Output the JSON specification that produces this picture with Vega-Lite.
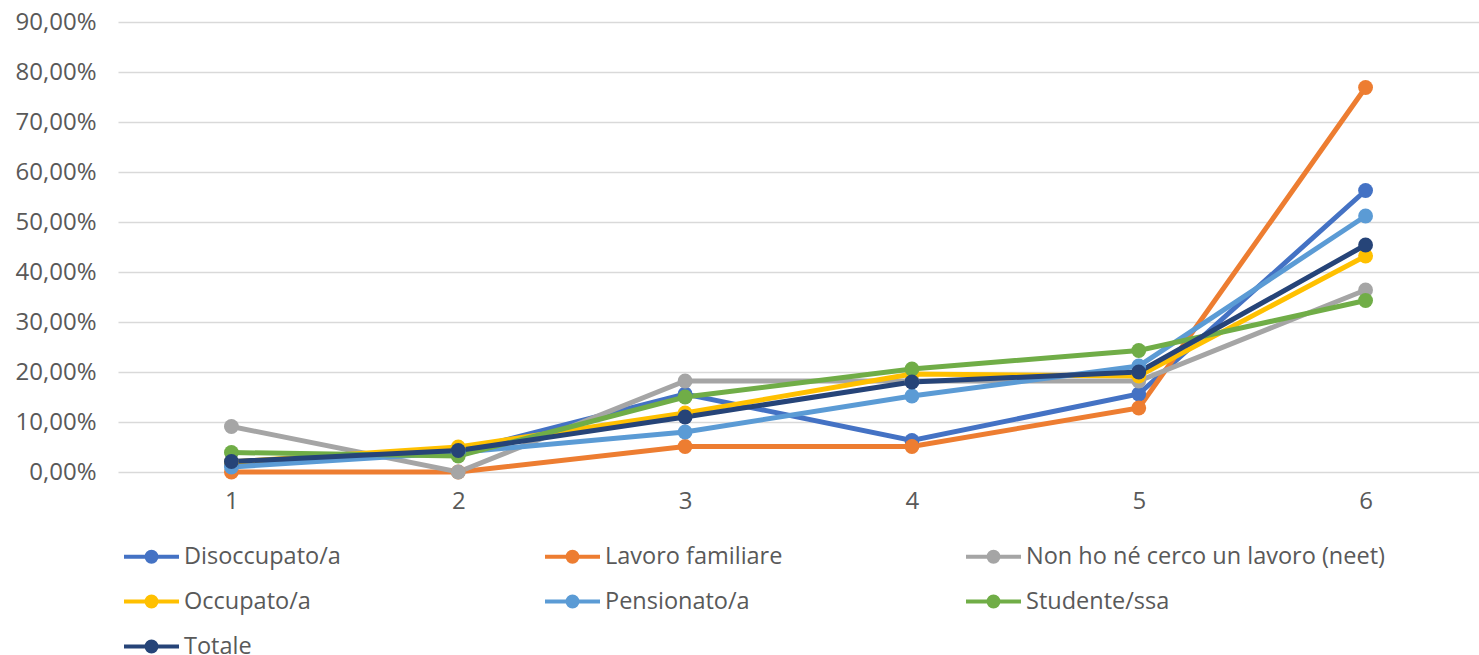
{
  "$schema": "https://vega.github.io/schema/vega-lite/v6.json",
  "autosize": "none",
  "width": 1361,
  "height": 450,
  "padding": {"left": 118, "top": 22, "right": 0, "bottom": 183},
  "background": "white",
  "config": {
    "locale": {"number": {"decimal": ",", "thousands": ".", "grouping": [3], "currency": ["€", ""]}},
    "font": "Open Sans",
    "view": {"stroke": null}
  },
  "data": {"values": [
    {"cat": "1", "serie": "Disoccupato/a", "v": 0.015},
    {"cat": "2", "serie": "Disoccupato/a", "v": 0.040},
    {"cat": "3", "serie": "Disoccupato/a", "v": 0.156},
    {"cat": "4", "serie": "Disoccupato/a", "v": 0.063},
    {"cat": "5", "serie": "Disoccupato/a", "v": 0.156},
    {"cat": "6", "serie": "Disoccupato/a", "v": 0.563},
    {"cat": "1", "serie": "Lavoro familiare", "v": 0.0},
    {"cat": "2", "serie": "Lavoro familiare", "v": 0.0},
    {"cat": "3", "serie": "Lavoro familiare", "v": 0.051},
    {"cat": "4", "serie": "Lavoro familiare", "v": 0.051},
    {"cat": "5", "serie": "Lavoro familiare", "v": 0.128},
    {"cat": "6", "serie": "Lavoro familiare", "v": 0.769},
    {"cat": "1", "serie": "Non ho né cerco un lavoro (neet)", "v": 0.091},
    {"cat": "2", "serie": "Non ho né cerco un lavoro (neet)", "v": 0.0},
    {"cat": "3", "serie": "Non ho né cerco un lavoro (neet)", "v": 0.182},
    {"cat": "4", "serie": "Non ho né cerco un lavoro (neet)", "v": 0.182},
    {"cat": "5", "serie": "Non ho né cerco un lavoro (neet)", "v": 0.182},
    {"cat": "6", "serie": "Non ho né cerco un lavoro (neet)", "v": 0.364},
    {"cat": "1", "serie": "Occupato/a", "v": 0.020},
    {"cat": "2", "serie": "Occupato/a", "v": 0.050},
    {"cat": "3", "serie": "Occupato/a", "v": 0.118},
    {"cat": "4", "serie": "Occupato/a", "v": 0.196},
    {"cat": "5", "serie": "Occupato/a", "v": 0.192},
    {"cat": "6", "serie": "Occupato/a", "v": 0.432},
    {"cat": "1", "serie": "Pensionato/a", "v": 0.010},
    {"cat": "2", "serie": "Pensionato/a", "v": 0.039},
    {"cat": "3", "serie": "Pensionato/a", "v": 0.080},
    {"cat": "4", "serie": "Pensionato/a", "v": 0.152},
    {"cat": "5", "serie": "Pensionato/a", "v": 0.212},
    {"cat": "6", "serie": "Pensionato/a", "v": 0.512},
    {"cat": "1", "serie": "Studente/ssa", "v": 0.039},
    {"cat": "2", "serie": "Studente/ssa", "v": 0.032},
    {"cat": "3", "serie": "Studente/ssa", "v": 0.150},
    {"cat": "4", "serie": "Studente/ssa", "v": 0.206},
    {"cat": "5", "serie": "Studente/ssa", "v": 0.243},
    {"cat": "6", "serie": "Studente/ssa", "v": 0.343},
    {"cat": "1", "serie": "Totale", "v": 0.021},
    {"cat": "2", "serie": "Totale", "v": 0.043},
    {"cat": "3", "serie": "Totale", "v": 0.110},
    {"cat": "4", "serie": "Totale", "v": 0.180},
    {"cat": "5", "serie": "Totale", "v": 0.200},
    {"cat": "6", "serie": "Totale", "v": 0.454}
  ]},
  "mark": {"type": "line", "strokeWidth": 5, "point": {"filled": true, "size": 220}},
  "encoding": {
    "x": {
      "field": "cat", "type": "ordinal",
      "scale": {"type": "point", "padding": 0.5},
      "axis": {"title": null, "labelAngle": 0, "domain": false, "ticks": false, "grid": false,
               "labelFontSize": 24, "labelColor": "#595959", "labelPadding": 17}
    },
    "y": {
      "field": "v", "type": "quantitative",
      "scale": {"domain": [0, 0.9], "nice": false},
      "axis": {"title": null, "format": ".2%", "values": [0, 0.1, 0.2, 0.3, 0.4, 0.5, 0.6, 0.7, 0.8, 0.9],
               "domain": false, "ticks": false, "gridColor": "#D9D9D9", "gridWidth": 1.5,
               "labelFontSize": 24, "labelColor": "#595959", "labelPadding": 22}
    },
    "color": {
      "field": "serie", "type": "nominal",
      "scale": {
        "domain": ["Disoccupato/a", "Lavoro familiare", "Non ho né cerco un lavoro (neet)", "Occupato/a", "Pensionato/a", "Studente/ssa", "Totale"],
        "range": ["#4472C4", "#ED7D31", "#A5A5A5", "#FFC000", "#5B9BD5", "#70AD47", "#264478"]
      },
      "legend": {
        "title": null, "orient": "none", "legendX": 4, "legendY": 505, "direction": "horizontal",
        "columns": 3, "gridAlign": "all", "columnPadding": -10, "rowPadding": 2,
        "labelFontSize": 23.5, "labelColor": "#595959", "labelOffset": 3, "labelLimit": 500,
        "symbolType": "M-1,0H1M0.18,0A0.18,0.18,0,1,1,-0.18,0A0.18,0.18,0,1,1,0.18,0Z",
        "symbolSize": 3025, "symbolStrokeWidth": 4,
        "encode": {"symbols": {"update": {"fill": {"scale": "color", "field": "value"}, "stroke": {"scale": "color", "field": "value"}, "opacity": {"value": 1}}}}
      }
    }
  }
}
